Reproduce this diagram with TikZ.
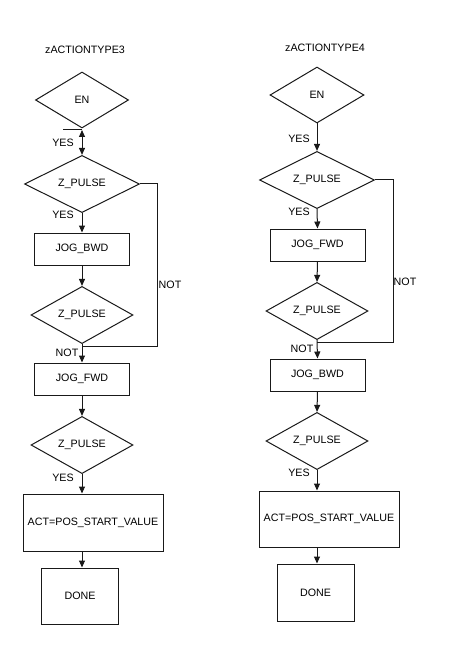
\documentclass[tikz,border=0pt]{standalone}
\usepackage{fontspec}
\setmainfont{Liberation Sans}
\usetikzlibrary{shapes.geometric,arrows.meta}

\begin{document}
\begin{tikzpicture}[x=1pt,y=-1pt,
  every node/.style={font=\fontsize{10.7}{12}\selectfont},
  test/.style={diamond,draw=black!90,line width=1pt,inner sep=0pt},
  action/.style={rectangle,draw=black!90,line width=1pt,inner sep=0pt},
  link/.style={draw=black!90,line width=1pt},
  flow/.style={link,-{Triangle[width=6pt,length=7pt]}},
  tag/.style={inner sep=0pt}]
\useasboundingbox (0,0) rectangle (454,652);

% zACTIONTYPE3
\node[tag] (title3) at (85,50) {zACTIONTYPE3};
\node[test,minimum width=93pt,minimum height=56pt] (en3) at (82,100) {EN};
\node[test,minimum width=115pt,minimum height=57pt] (zp3a) at (82,184) {Z\_PULSE};
\node[action,minimum width=95pt,minimum height=32pt] (bwd3) at (82,249) {JOG\_BWD};
\node[test,minimum width=102pt,minimum height=56pt] (zp3b) at (82,315) {Z\_PULSE};
\node[action,minimum width=95pt,minimum height=32pt] (fwd3) at (82,379) {JOG\_FWD};
\node[test,minimum width=102pt,minimum height=56pt] (zp3c) at (82,445) {Z\_PULSE};
\node[action,minimum width=140pt,minimum height=57pt] (act3) at (93,522.5) {ACT=POS\_START\_VALUE};
\node[action,minimum width=77pt,minimum height=56pt] (done3) at (80,596) {DONE};

\coordinate (tick3) at (63,130);
\coordinate (not3) at (157,346);
\draw[link] (tick3) -- (tick3 -| en3.south);
\draw[flow,{Triangle[width=6pt,length=7pt]}-{Triangle[width=6pt,length=7pt]}] (tick3 -| en3.south) -- (zp3a.north);
\draw[flow] (zp3a.south) -- (bwd3.north);
\draw[flow] (bwd3.south) -- (zp3b.north);
\draw[link] (zp3a.east) -| (not3) -- (not3 -| zp3b.south);
\draw[flow] (zp3b.south) -- (fwd3.north);
\draw[flow] (fwd3.south) -- (zp3c.north);
\draw[flow] (zp3c.south) -- (zp3c.south |- act3.north);
\draw[flow] (zp3c.south |- act3.south) -- (zp3c.south |- done3.north);

\node[tag] (yes3a) at (63,143) {YES};
\node[tag] (yes3b) at (63,215) {YES};
\node[tag] (no3a) at (170,285) {NOT};
\node[tag] (no3b) at (67,353) {NOT};
\node[tag] (yes3c) at (63,478) {YES};

% zACTIONTYPE4
\node[tag] (title4) at (325,48) {zACTIONTYPE4};
\node[test,minimum width=94pt,minimum height=56pt] (en4) at (317,95) {EN};
\node[test,minimum width=115pt,minimum height=56pt] (zp4a) at (317,180) {Z\_PULSE};
\node[action,minimum width=95pt,minimum height=32pt] (fwd4) at (317.5,245) {JOG\_FWD};
\node[test,minimum width=102pt,minimum height=56pt] (zp4b) at (317,311) {Z\_PULSE};
\node[action,minimum width=95pt,minimum height=32pt] (bwd4) at (317.5,375) {JOG\_BWD};
\node[test,minimum width=102pt,minimum height=56pt] (zp4c) at (317,441) {Z\_PULSE};
\node[action,minimum width=140pt,minimum height=56pt] (act4) at (329,519) {ACT=POS\_START\_VALUE};
\node[action,minimum width=77pt,minimum height=57pt] (done4) at (315.5,592.5) {DONE};

\coordinate (not4) at (393,342);
\draw[flow] (en4.south) -- (zp4a.north);
\draw[flow] (zp4a.south) -- (fwd4.north);
\draw[flow] (fwd4.south) -- (zp4b.north);
\draw[link] (zp4a.east) -| (not4) -- (not4 -| zp4b.south);
\draw[flow] (zp4b.south) -- (bwd4.north);
\draw[flow] (bwd4.south) -- (zp4c.north);
\draw[flow] (zp4c.south) -- (zp4c.south |- act4.north);
\draw[flow] (zp4c.south |- act4.south) -- (zp4c.south |- done4.north);

\node[tag] (yes4a) at (299,139) {YES};
\node[tag] (yes4b) at (299,212) {YES};
\node[tag] (no4a) at (405,282) {NOT};
\node[tag] (no4b) at (302,349) {NOT};
\node[tag] (yes4c) at (299,473) {YES};

\end{tikzpicture}
\end{document}
